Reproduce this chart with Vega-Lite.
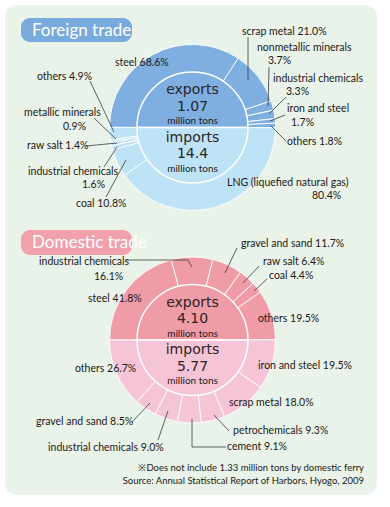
{
  "$schema": "https://vega.github.io/schema/vega-lite/v6.json",
  "width": 390,
  "height": 507,
  "autosize": {"type": "fit", "contains": "padding"},
  "padding": {"left": 5, "top": 5, "right": 13, "bottom": 12},
  "background": "white",
  "config": {
    "view": {"fill": "#e9f3ea", "stroke": null, "cornerRadius": 12},
    "text": {"font": "Lato", "color": "#231815"}
  },
  "datasets": {
    "slices": [
      {"trade": "Foreign", "flow": "exports", "item": "steel", "pct": 68.6, "ord": 1},
      {"trade": "Foreign", "flow": "exports", "item": "scrap metal", "pct": 21.0, "ord": 2},
      {"trade": "Foreign", "flow": "exports", "item": "nonmetallic minerals", "pct": 3.7, "ord": 3},
      {"trade": "Foreign", "flow": "exports", "item": "industrial chemicals", "pct": 3.3, "ord": 4},
      {"trade": "Foreign", "flow": "exports", "item": "iron and steel", "pct": 1.7, "ord": 5},
      {"trade": "Foreign", "flow": "exports", "item": "others", "pct": 1.8, "ord": 6},
      {"trade": "Foreign", "flow": "imports", "item": "LNG (liquefied natural gas)", "pct": 80.4, "ord": 7},
      {"trade": "Foreign", "flow": "imports", "item": "coal", "pct": 10.8, "ord": 8},
      {"trade": "Foreign", "flow": "imports", "item": "industrial chemicals", "pct": 1.6, "ord": 9},
      {"trade": "Foreign", "flow": "imports", "item": "raw salt", "pct": 1.4, "ord": 10},
      {"trade": "Foreign", "flow": "imports", "item": "metallic minerals", "pct": 0.9, "ord": 11},
      {"trade": "Foreign", "flow": "imports", "item": "others", "pct": 4.9, "ord": 12},
      {"trade": "Domestic", "flow": "exports", "item": "steel", "pct": 41.8, "ord": 1},
      {"trade": "Domestic", "flow": "exports", "item": "industrial chemicals", "pct": 16.1, "ord": 2},
      {"trade": "Domestic", "flow": "exports", "item": "gravel and sand", "pct": 11.7, "ord": 3},
      {"trade": "Domestic", "flow": "exports", "item": "raw salt", "pct": 6.4, "ord": 4},
      {"trade": "Domestic", "flow": "exports", "item": "coal", "pct": 4.4, "ord": 5},
      {"trade": "Domestic", "flow": "exports", "item": "others", "pct": 19.5, "ord": 6},
      {"trade": "Domestic", "flow": "imports", "item": "iron and steel", "pct": 19.5, "ord": 7},
      {"trade": "Domestic", "flow": "imports", "item": "scrap metal", "pct": 18.0, "ord": 8},
      {"trade": "Domestic", "flow": "imports", "item": "petrochemicals", "pct": 9.3, "ord": 9},
      {"trade": "Domestic", "flow": "imports", "item": "cement", "pct": 9.1, "ord": 10},
      {"trade": "Domestic", "flow": "imports", "item": "industrial chemicals", "pct": 9.0, "ord": 11},
      {"trade": "Domestic", "flow": "imports", "item": "gravel and sand", "pct": 8.5, "ord": 12},
      {"trade": "Domestic", "flow": "imports", "item": "others", "pct": 26.7, "ord": 13}
    ],
    "flows": [
      {"trade": "Foreign", "flow": "exports", "total": 1.07, "share": 100, "ord": 1},
      {"trade": "Foreign", "flow": "imports", "total": 14.4, "share": 100, "ord": 2},
      {"trade": "Domestic", "flow": "exports", "total": 4.10, "share": 100, "ord": 1},
      {"trade": "Domestic", "flow": "imports", "total": 5.77, "share": 100, "ord": 2}
    ],
    "titles": [
      {"title": "Foreign trade", "x": 21, "x2": 132, "y": 18, "y2": 42},
      {"title": "Domestic trade", "x": 21, "x2": 132, "y": 230, "y2": 255}
    ],
    "leaders": [
      {"x": 248, "y": 37, "x2": 248, "y2": 80},
      {"x": 269, "y": 67, "x2": 268, "y2": 106},
      {"x": 286, "y": 97, "x2": 269, "y2": 114},
      {"x": 285, "y": 115, "x2": 270, "y2": 121},
      {"x": 286, "y": 141, "x2": 271, "y2": 126},
      {"x": 90, "y": 81, "x2": 114, "y2": 132},
      {"x": 94, "y": 118, "x2": 116, "y2": 139},
      {"x": 86, "y": 146, "x2": 117, "y2": 143},
      {"x": 104, "y": 167, "x2": 117, "y2": 147},
      {"x": 106, "y": 197, "x2": 126, "y2": 160},
      {"x": 126, "y": 260, "x2": 188, "y2": 260},
      {"x": 188, "y": 260, "x2": 192, "y2": 267},
      {"x": 237, "y": 248, "x2": 225, "y2": 273},
      {"x": 259, "y": 266, "x2": 243, "y2": 283},
      {"x": 267, "y": 279, "x2": 254, "y2": 291},
      {"x": 229, "y": 431, "x2": 214, "y2": 415},
      {"x": 226, "y": 447, "x2": 192, "y2": 447},
      {"x": 192, "y": 447, "x2": 192, "y2": 419},
      {"x": 158, "y": 440, "x2": 168, "y2": 411},
      {"x": 132, "y": 422, "x2": 150, "y2": 403}
    ],
    "labels": [
      {"t": "scrap metal 21.0%", "x": 242, "y": 32, "k": "lab"},
      {"t": "nonmetallic minerals", "x": 257, "y": 48, "k": "lab"},
      {"t": "3.7%", "x": 268, "y": 61, "k": "lab"},
      {"t": "industrial chemicals", "x": 273, "y": 79, "k": "lab"},
      {"t": "3.3%", "x": 286, "y": 92, "k": "lab"},
      {"t": "iron and steel", "x": 287, "y": 109, "k": "lab"},
      {"t": "1.7%", "x": 291, "y": 123, "k": "lab"},
      {"t": "others 1.8%", "x": 287, "y": 142, "k": "lab"},
      {"t": "LNG (liquefied natural gas)", "x": 227, "y": 183, "k": "lab"},
      {"t": "80.4%", "x": 312, "y": 196, "k": "lab"},
      {"t": "steel 68.6%", "x": 115, "y": 63, "k": "lab"},
      {"t": "others 4.9%", "x": 37, "y": 77, "k": "lab"},
      {"t": "metallic minerals", "x": 24, "y": 113, "k": "lab"},
      {"t": "0.9%", "x": 63, "y": 127, "k": "lab"},
      {"t": "raw salt 1.4%", "x": 27, "y": 146, "k": "lab"},
      {"t": "industrial chemicals", "x": 28, "y": 172, "k": "lab"},
      {"t": "1.6%", "x": 82, "y": 185, "k": "lab"},
      {"t": "coal 10.8%", "x": 76, "y": 204, "k": "lab"},
      {"t": "industrial chemicals", "x": 39, "y": 262, "k": "lab"},
      {"t": "16.1%", "x": 94, "y": 277, "k": "lab"},
      {"t": "gravel and sand 11.7%", "x": 241, "y": 244, "k": "lab"},
      {"t": "raw salt 6.4%", "x": 263, "y": 262, "k": "lab"},
      {"t": "coal 4.4%", "x": 269, "y": 276, "k": "lab"},
      {"t": "others 19.5%", "x": 258, "y": 319, "k": "lab"},
      {"t": "steel 41.8%", "x": 88, "y": 299, "k": "lab"},
      {"t": "others 26.7%", "x": 75, "y": 369, "k": "lab"},
      {"t": "iron and steel 19.5%", "x": 258, "y": 366, "k": "lab"},
      {"t": "scrap metal 18.0%", "x": 229, "y": 403, "k": "lab"},
      {"t": "petrochemicals 9.3%", "x": 233, "y": 431, "k": "lab"},
      {"t": "cement 9.1%", "x": 227, "y": 447, "k": "lab"},
      {"t": "industrial chemicals 9.0%", "x": 48, "y": 448, "k": "lab"},
      {"t": "gravel and sand 8.5%", "x": 36, "y": 422, "k": "lab"},
      {"t": "exports", "x": 192.5, "y": 90, "k": "big"},
      {"t": "1.07", "x": 192.5, "y": 106.5, "k": "big"},
      {"t": "million tons", "x": 192.5, "y": 121, "k": "mil"},
      {"t": "imports", "x": 192.5, "y": 137.5, "k": "big"},
      {"t": "14.4", "x": 192.5, "y": 154, "k": "big"},
      {"t": "million tons", "x": 192.5, "y": 168.5, "k": "mil"},
      {"t": "exports", "x": 192.5, "y": 302.5, "k": "big"},
      {"t": "4.10", "x": 192.5, "y": 319, "k": "big"},
      {"t": "million tons", "x": 192.5, "y": 333.5, "k": "mil"},
      {"t": "imports", "x": 192.5, "y": 350, "k": "big"},
      {"t": "5.77", "x": 192.5, "y": 366.5, "k": "big"},
      {"t": "million tons", "x": 192.5, "y": 381, "k": "mil"},
      {"t": "※Does not include 1.33 million tons by domestic ferry", "x": 364, "y": 468, "k": "note"},
      {"t": "Source: Annual Statistical Report of Harbors, Hyogo, 2009", "x": 364, "y": 481, "k": "note"}
    ]
  },
  "layer": [
    {
      "data": {"name": "titles"},
      "mark": {"type": "rect", "cornerRadius": 9},
      "encoding": {
        "x": {"field": "x", "type": "quantitative", "scale": {"domain": [5, 377], "nice": false, "zero": false}, "axis": null},
        "x2": {"field": "x2"},
        "y": {"field": "y", "type": "quantitative", "scale": {"domain": [5, 495], "nice": false, "zero": false, "reverse": true}, "axis": null},
        "y2": {"field": "y2"},
        "color": {"field": "title", "type": "nominal", "legend": null,
          "scale": {"domain": ["Foreign exports", "Foreign imports", "Domestic exports", "Domestic imports", "Foreign trade", "Domestic trade"],
                    "range": ["#7eafe0", "#bee3f7", "#f09ca7", "#f6c4d7", "#79aade", "#f0a1ab"]}}
      }
    },
    {
      "data": {"name": "titles"},
      "mark": {"type": "text", "align": "left", "baseline": "middle", "dx": 11, "dy": 12.5, "fontSize": 17, "color": "white"},
      "encoding": {
        "x": {"field": "x", "type": "quantitative"},
        "y": {"field": "y", "type": "quantitative"},
        "text": {"field": "title"}
      }
    },
    {
      "data": {"name": "slices"},
      "transform": [{"filter": "datum.trade === 'Foreign'"}, {"calculate": "datum.trade + ' ' + datum.flow", "as": "key"}],
      "mark": {"type": "arc", "radius": 83, "stroke": "white", "strokeWidth": 0.9},
      "encoding": {
        "x": {"datum": 192.5, "type": "quantitative"},
        "y": {"datum": 127.5, "type": "quantitative"},
        "theta": {"field": "pct", "type": "quantitative", "stack": true, "scale": {"domain": [0, 200], "range": [-1.5708, 4.7124]}},
        "order": {"field": "ord", "type": "quantitative"},
        "color": {"field": "key", "type": "nominal", "legend": null}
      }
    },
    {
      "data": {"name": "flows"},
      "transform": [{"filter": "datum.trade === 'Foreign'"}, {"calculate": "datum.trade + ' ' + datum.flow", "as": "key"}],
      "mark": {"type": "arc", "radius": 55.5, "stroke": "white", "strokeWidth": 1.5},
      "encoding": {
        "x": {"datum": 192.5, "type": "quantitative"},
        "y": {"datum": 127.5, "type": "quantitative"},
        "theta": {"field": "share", "type": "quantitative", "stack": true},
        "order": {"field": "ord", "type": "quantitative"},
        "color": {"field": "key", "type": "nominal", "legend": null}
      }
    },
    {
      "data": {"name": "slices"},
      "transform": [{"filter": "datum.trade === 'Domestic'"}, {"calculate": "datum.trade + ' ' + datum.flow", "as": "key"}],
      "mark": {"type": "arc", "radius": 83, "stroke": "white", "strokeWidth": 0.9},
      "encoding": {
        "x": {"datum": 192.5, "type": "quantitative"},
        "y": {"datum": 340, "type": "quantitative"},
        "theta": {"field": "pct", "type": "quantitative", "stack": true},
        "order": {"field": "ord", "type": "quantitative"},
        "color": {"field": "key", "type": "nominal", "legend": null}
      }
    },
    {
      "data": {"name": "flows"},
      "transform": [{"filter": "datum.trade === 'Domestic'"}, {"calculate": "datum.trade + ' ' + datum.flow", "as": "key"}],
      "mark": {"type": "arc", "radius": 55.5, "stroke": "white", "strokeWidth": 1.5},
      "encoding": {
        "x": {"datum": 192.5, "type": "quantitative"},
        "y": {"datum": 340, "type": "quantitative"},
        "theta": {"field": "share", "type": "quantitative", "stack": true},
        "order": {"field": "ord", "type": "quantitative"},
        "color": {"field": "key", "type": "nominal", "legend": null}
      }
    },
    {
      "data": {"name": "leaders"},
      "mark": {"type": "rule", "color": "#3a3a3a", "strokeWidth": 0.8},
      "encoding": {
        "x": {"field": "x", "type": "quantitative"},
        "y": {"field": "y", "type": "quantitative"},
        "x2": {"field": "x2"},
        "y2": {"field": "y2"}
      }
    },
    {
      "data": {"name": "labels"},
      "transform": [{"filter": "datum.k === 'lab'"}],
      "mark": {"type": "text", "align": "left", "baseline": "middle", "fontSize": 10.5},
      "encoding": {
        "x": {"field": "x", "type": "quantitative"},
        "y": {"field": "y", "type": "quantitative"},
        "text": {"field": "t"}
      }
    },
    {
      "data": {"name": "labels"},
      "transform": [{"filter": "datum.k === 'big'"}],
      "mark": {"type": "text", "align": "center", "baseline": "middle", "fontSize": 14, "font": "DejaVu Sans", "color": "#2a2424"},
      "encoding": {
        "x": {"field": "x", "type": "quantitative"},
        "y": {"field": "y", "type": "quantitative"},
        "text": {"field": "t"}
      }
    },
    {
      "data": {"name": "labels"},
      "transform": [{"filter": "datum.k === 'mil'"}],
      "mark": {"type": "text", "align": "center", "baseline": "middle", "fontSize": 10},
      "encoding": {
        "x": {"field": "x", "type": "quantitative"},
        "y": {"field": "y", "type": "quantitative"},
        "text": {"field": "t"}
      }
    },
    {
      "data": {"name": "labels"},
      "transform": [{"filter": "datum.k === 'note'"}],
      "mark": {"type": "text", "align": "right", "baseline": "middle", "fontSize": 9.5},
      "encoding": {
        "x": {"field": "x", "type": "quantitative"},
        "y": {"field": "y", "type": "quantitative"},
        "text": {"field": "t"}
      }
    }
  ]
}
